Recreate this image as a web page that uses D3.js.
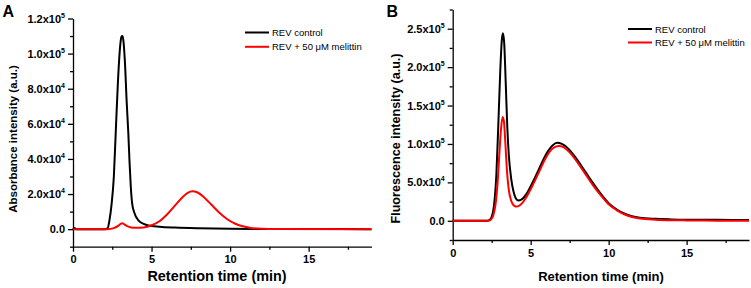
<!DOCTYPE html>
<html>
<head>
<meta charset="utf-8">
<script src="https://cdn.jsdelivr.net/npm/d3@7"></script>
<style>
  body { margin: 0; background: #fff; }
  svg { font-family: "Liberation Sans", Arial, sans-serif; }
</style>
</head>
<body>
<svg id="drawing_region" width="751" height="288"></svg>
<script>
// Panel A: absorbance, [time (min), value]
const absControl = [
    [0,0],[0.1,700],[0.2,0],[2.0,0],[2.2,500],[2.32,5000],[2.46,14500],[2.6,30000],
    [2.72,55000],[2.85,82000],[2.98,102000],[3.08,109500],[3.14,110000],[3.2,108000],
    [3.3,96000],[3.42,72000],[3.52,55000],[3.6,38000],[3.68,24000],[3.76,15000],
    [3.9,9500],[4.16,5000],[4.5,3000],[4.8,2100],[5.5,1400],[6.5,900],[8,500],
    [10,250],[12,100],[15,50],[19,0]
];
const absMelittin = [
    [0,0],[2.2,0],[2.6,600],[2.9,2000],[3.05,3100],[3.14,3400],[3.25,2800],[3.45,1700],
    [3.7,1000],[4.0,800],[4.5,1000],[5,2200],[5.5,4500],[6,8500],[6.5,13500],[7,18500],
    [7.3,20700],[7.6,21600],[7.9,21000],[8.3,18500],[8.8,14000],[9.3,9500],[9.8,5800],
    [10.3,3200],[10.8,1600],[11.3,700],[12,200],[13,50],[19,0]
];
// Panel B: fluorescence
const fluoControl = [
    [0,0],[2.2,0],[2.35,800],[2.5,5000],[2.65,20000],[2.8,60000],[2.92,122000],
    [3.05,195000],[3.15,235000],[3.22,244000],[3.3,232000],[3.4,180000],[3.5,122000],
    [3.6,85000],[3.75,55000],[3.9,38000],[4.05,29000],[4.2,26500],[4.4,27500],
    [4.7,34000],[5.0,45000],[5.5,66000],[6.0,87000],[6.4,98000],[6.7,101500],
    [7.0,100000],[7.5,92000],[8.0,79000],[8.5,64000],[9.0,49000],[9.5,35000],
    [10,23000],[10.5,15000],[11,9500],[11.5,6000],[12,4000],[13,2500],[14,1800],
    [15,1400],[17,1200],[19,1100]
];
const fluoMelittin = [
    [0,0],[2.3,0],[2.45,1500],[2.6,7000],[2.75,22000],[2.88,50000],[3.0,90000],
    [3.1,120000],[3.2,135000],[3.28,130000],[3.38,100000],[3.48,65000],[3.6,40000],
    [3.75,26000],[3.95,19500],[4.12,18500],[4.35,21000],[4.7,30000],[5.0,41000],
    [5.5,62000],[6.0,83000],[6.4,94000],[6.8,97500],[7.1,96000],[7.5,89000],
    [8.0,76000],[8.5,61000],[9.0,46000],[9.5,33000],[10,21500],[10.5,14000],
    [11,8500],[11.5,5000],[12,3000],[13,1500],[14,800],[15,500],[17,200],[19,0]
];

const seriesNames = ["REV control", "REV + 50 \u03bcM melittin"];
const seriesColors = ["#000000", "#ff0000"];
const xTicks = [0, 5, 10, 15];
const xMinorTicks = [2.5, 7.5, 12.5, 17.5];
const yTicksA = [0, 20000, 40000, 60000, 80000, 100000, 120000];
const yMinorTicksA = [-10000, 10000, 30000, 50000, 70000, 90000, 110000];
const yTicksB = [0, 50000, 100000, 150000, 200000, 250000];
const yMinorTicksB = [-25000, 25000, 75000, 125000, 175000, 225000, 275000];

class ChromChart {
    constructor( config, data ) {
        this.config = config;
        this.data = data;
        this.init();
    }

    init() {
        let self = this;
        let c = self.config;
        self.svg = d3.select('#drawing_region').append('g');

        self.xscale = d3.scaleLinear().domain([0, 19]).range([c.left, c.right]);
        self.yscale = d3.scaleLinear().domain(c.ydomain).range([c.bottom, c.top]);

        self.line = d3.line()
            .x( d => self.xscale(d[0]) )
            .y( d => self.yscale(d[1]) )
            .curve(d3.curveMonotoneX);
    }

    render() {
        let self = this;
        let c = self.config;

        // minor ticks
        self.svg.append('g')
            .attr('transform', `translate(0, ${c.bottom})`)
            .call( d3.axisBottom(self.xscale).tickValues(xMinorTicks).tickSize(3).tickSizeOuter(0).tickFormat('') )
            .call( g => g.select('.domain').remove() );
        self.svg.append('g')
            .attr('transform', `translate(${c.left}, 0)`)
            .call( d3.axisLeft(self.yscale).tickValues(c.yminor).tickSize(3).tickSizeOuter(0).tickFormat('') )
            .call( g => g.select('.domain').remove() );

        const xaxis = self.svg.append('g')
            .attr('transform', `translate(0, ${c.bottom})`)
            .call( d3.axisBottom(self.xscale).tickValues(xTicks).tickSize(5).tickSizeOuter(0).tickPadding(4) );
        xaxis.selectAll('text')
            .attr('font-size', 11).attr('font-weight', 'bold')
            .attr('font-family', '"Liberation Sans", Arial, sans-serif');

        const yaxis = self.svg.append('g')
            .attr('transform', `translate(${c.left}, 0)`)
            .call( d3.axisLeft(self.yscale).tickValues(c.yticks).tickSize(5).tickSizeOuter(0).tickPadding(3).tickFormat('') );
        yaxis.selectAll('.tick text')
            .attr('font-size', 11).attr('font-weight', 'bold')
            .attr('font-family', '"Liberation Sans", Arial, sans-serif')
            .each( function(d) {
                const t = d3.select(this);
                if (d === 0) { t.text('0.0'); return; }
                const exp = Math.floor(Math.log10(d));
                const mant = (d / Math.pow(10, exp)).toFixed(1);
                t.append('tspan').text(mant + 'x10');
                t.append('tspan').attr('font-size', 7).attr('dy', -5).text(exp);
            });

        self.svg.selectAll('.domain, .tick line')
            .attr('stroke', '#000').attr('stroke-width', 1.3);

        // curves, red drawn over black
        self.svg.selectAll('path.curve')
            .data( self.data )
            .enter()
            .append('path')
            .attr('class', 'curve')
            .attr('d', d => self.line(d))
            .attr('fill', 'none')
            .attr('stroke', (d, i) => seriesColors[i])
            .attr('stroke-width', 2);

        // legend
        const legend = self.svg.selectAll('g.legend')
            .data( seriesNames )
            .enter()
            .append('g')
            .attr('transform', (d, i) => `translate(${c.legendX}, ${c.legendY + i * c.legendGap})`);
        legend.append('line')
            .attr('x1', 0).attr('x2', 24).attr('y1', 0).attr('y2', 0)
            .attr('stroke', (d, i) => seriesColors[i]).attr('stroke-width', 2);
        legend.append('text')
            .attr('x', 27).attr('y', 3.5)
            .attr('font-size', 9.5)
            .text( d => d );

        // titles
        self.svg.append('text')
            .attr('x', c.xtitleX).attr('y', 281)
            .attr('text-anchor', 'middle')
            .attr('font-size', c.xtitleSize).attr('font-weight', 'bold')
            .text('Retention time (min)');
        self.svg.append('text')
            .attr('transform', `translate(${c.ytitleX}, ${c.ytitleY}) rotate(-90)`)
            .attr('text-anchor', 'middle')
            .attr('font-size', c.ytitleSize).attr('font-weight', 'bold')
            .text(c.ytitle);
        self.svg.append('text')
            .attr('x', c.letterX).attr('y', 16.5)
            .attr('font-size', 16).attr('font-weight', 'bold')
            .text(c.letter);
    }
}

const chartA = new ChromChart({
    left: 73, right: 371.5, top: 18.5, bottom: 246.7,
    ydomain: [-10000, 120000], yticks: yTicksA, yminor: yMinorTicksA,
    ytitle: 'Absorbance intensity (a.u.)', ytitleX: 16.5, ytitleY: 139, ytitleSize: 11.5,
    xtitleX: 217, xtitleSize: 14.4,
    legendX: 245, legendY: 32.5, legendGap: 14.3,
    letter: 'A', letterX: 2.5
}, [absControl, absMelittin]);
chartA.render();

const chartB = new ChromChart({
    left: 452.7, right: 749, top: 9.5, bottom: 240,
    ydomain: [-25000, 275000], yticks: yTicksB, yminor: yMinorTicksB,
    ytitle: 'Fluorescence intensity (a.u.)', ytitleX: 399.5, ytitleY: 138.5, ytitleSize: 12.6,
    xtitleX: 601, xtitleSize: 13,
    legendX: 628, legendY: 29, legendGap: 13.5,
    letter: 'B', letterX: 386.5
}, [fluoControl, fluoMelittin]);
chartB.render();
</script>
</body>
</html>
